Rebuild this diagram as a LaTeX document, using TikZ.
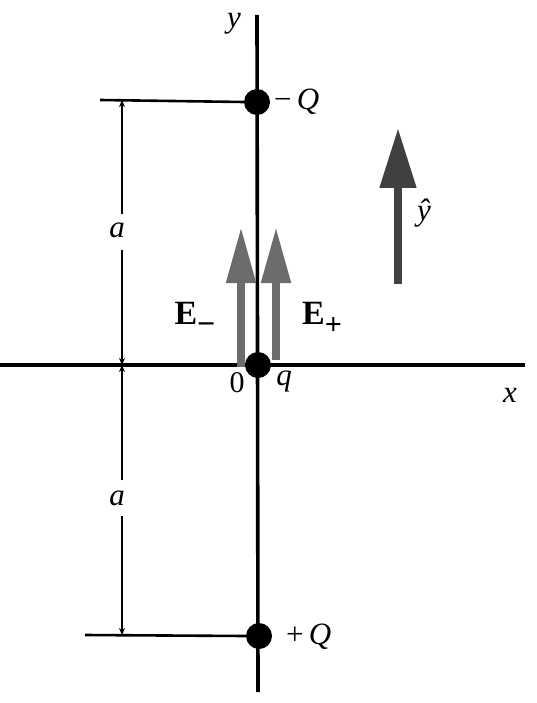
\documentclass[tikz,border=0pt]{standalone}
\usepackage{fontspec}
\setmainfont{Liberation Serif}
\usetikzlibrary{arrows.meta}
\begin{document}
\begin{tikzpicture}[x=1pt,y=-1pt,
  axis/.style={line width=3.6pt,black},
  charge/.style={circle,fill=black,inner sep=0pt,minimum size=26pt},
  lbl/.style={font=\fontsize{31}{33}\selectfont\itshape,inner sep=0pt},
  lblup/.style={font=\fontsize{30}{32}\selectfont,inner sep=0pt},
  elbl/.style={font=\fontsize{34}{36}\selectfont\bfseries,inner sep=0pt},
  dim/.style={line width=2.4pt,black},
  tick/.style={line width=2.6pt,black},
  efield/.style={line width=8pt,draw=gray!85!black,-{Triangle[width=28pt,length=56pt]}},
  unit/.style={line width=8pt,draw=black!75,-{Triangle[width=35pt,length=60pt]}}]
\useasboundingbox (0,0) rectangle (536,703);
% axes
\coordinate (ytop) at (257,15);
\coordinate (ybot) at (258,692);
\coordinate (xl) at (0,365);
\coordinate (xr) at (525,365);
\draw[axis] (ytop) -- (ybot);
\draw[axis] (xl) -- (xr);
% field arrows
\coordinate (em0) at (241,367);
\coordinate (em1) at (241,227);
\coordinate (ep0) at (276,360);
\coordinate (ep1) at (276,227);
\draw[efield] (em0) -- (em1);
\draw[efield] (ep0) -- (ep1);
% charges
\node[charge] (qm) at (257,102) {};
\node[charge] (q0) at (258,365) {};
\node[charge] (qp) at (259,636) {};
% reference lines
\coordinate (tl) at (100,100);
\coordinate (bl) at (85,635);
\draw[tick] (tl) -- (qm.west);
\draw[tick] (bl) -- (qp.west);
% dimension lines
\coordinate (d1) at (122,100);
\coordinate (d2) at (122,365);
\coordinate (d3) at (122,635);
\coordinate (g1) at (122,214);
\coordinate (g2) at (122,250);
\coordinate (g3) at (122,480);
\coordinate (g4) at (122,516);
\node[lbl] (a1) at (117,230) {a};
\node[lbl] (a2) at (117,498) {a};
\draw[dim,-{Stealth[length=7pt,width=6pt]}] (g1) -- (d1);
\draw[dim,-{Stealth[length=7pt,width=6pt]}] (g2) -- (d2);
\draw[dim,-{Stealth[length=7pt,width=6pt]}] (g3) -- (d2);
\draw[dim,-{Stealth[length=7pt,width=6pt]}] (g4) -- (d3);
% unit vector
\coordinate (u0) at (398,284);
\coordinate (u1) at (398,128);
\draw[unit] (u0) -- (u1);
% labels
\node[lbl] (ly) at (234,24) {y};
\node[lbl,anchor=west] (lqm) at (274,102) {\upshape −\,\itshape Q};
\node[lbl,anchor=west] (lqp) at (286,637) {\upshape +\,\itshape Q};
\node[lblup] (l0) at (237,383) {0};
\node[lbl] (lq) at (284,381) {q};
\node[lbl] (lx) at (510,395) {x};
\node[lbl] (lyh) at (424,213) {ŷ};
\node[elbl] (lem) at (195,318) {E\raisebox{-10pt}{\fontsize{32}{32}\selectfont −}};
\node[elbl] (lep) at (322,318) {E\raisebox{-10pt}{\fontsize{30}{30}\selectfont +}};
\end{tikzpicture}
\end{document}
